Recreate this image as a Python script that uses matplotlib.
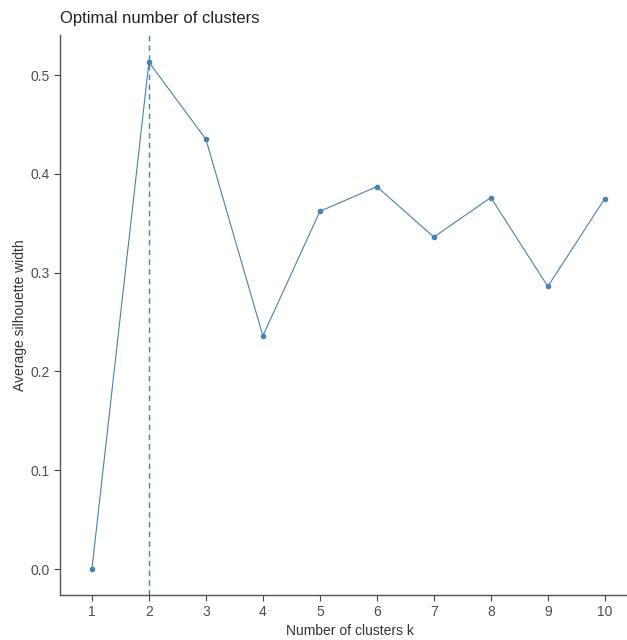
import numpy as np
import matplotlib.pyplot as plt

plt.rcParams['font.family'] = ['Liberation Sans', 'DejaVu Sans']

k = [1, 2, 3, 4, 5, 6, 7, 8, 9, 10]
sil = [0.0, 0.513, 0.435, 0.236, 0.362, 0.387, 0.336, 0.376, 0.286, 0.375]
k_opt = 2
col = '#4682B4'

fig = plt.figure(figsize=(6.27, 6.4), dpi=100)
ax = fig.add_axes([60/627, 1 - 595/640, 579/627, 560/640])

ax.plot(k, sil, '-', color=col, lw=0.8)
ax.plot(k, sil, 'o', color=col, ms=3)
ax.axvline(k_opt, color=col, ls=(0, (4, 3)), lw=1.0)

ax.set_xlim(0.44, 10.6)
ax.set_ylim(-0.0263, 0.5405)
ax.set_xticks(k)
ax.set_yticks([0.0, 0.1, 0.2, 0.3, 0.4, 0.5])
ax.set_yticklabels(['0.0', '0.1', '0.2', '0.3', '0.4', '0.5'])

for s in ['top', 'right']:
    ax.spines[s].set_visible(False)
for s in ['left', 'bottom']:
    ax.spines[s].set_color('#555555')
    ax.spines[s].set_linewidth(1.0)
ax.tick_params(colors='#444444', labelcolor='#4D4D4D', labelsize=10, length=4, width=0.8)

ax.set_xlabel('Number of clusters k', fontsize=10, color='#333333', labelpad=3)
ax.set_ylabel('Average silhouette width', fontsize=10, color='#333333', labelpad=2)
fig.text(60/627, 1 - 18/640, 'Optimal number of clusters', fontsize=12, color='#222222', va='center', ha='left')

fig.savefig('out.png', dpi=100)
